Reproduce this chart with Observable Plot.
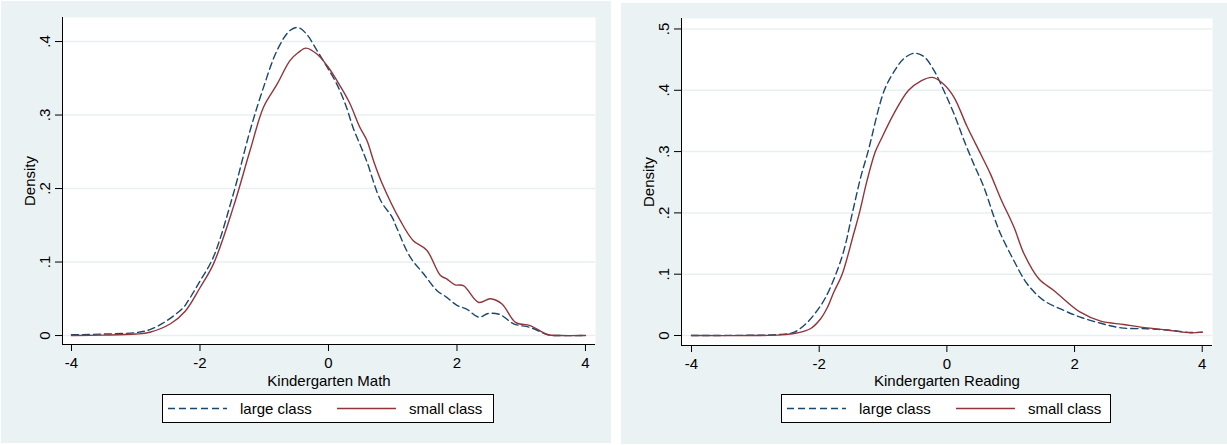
<!DOCTYPE html>
<html>
<head>
<meta charset="utf-8">
<script src="https://cdn.jsdelivr.net/npm/d3@7"></script>
<script src="https://cdn.jsdelivr.net/npm/@observablehq/plot@0.6"></script>
<style>
  html, body { margin: 0; padding: 0; background: #ffffff; }
  body { width: 1227px; height: 445px; position: relative; overflow: hidden;
         font-family: "Liberation Sans", Arial, sans-serif; color: #000; }
  .panel { position: absolute; background: #eaf2f3; }
  .panel svg.chart { position: absolute; left: 0; top: 0; }
  .legend { position: absolute; box-sizing: border-box; height: 29px; background: #fff;
            border: 1px solid #000; font-size: 15px; }
  .legend .sample { position: absolute; top: 12px; }
  .legend .lbl { position: absolute; top: 0; line-height: 27px; white-space: nowrap; }
</style>
</head>
<body>
<div id="p1" class="panel" style="left:1px;top:1px;width:610px;height:442px"></div>
<div id="p2" class="panel" style="left:621px;top:3px;width:606px;height:441px"></div>
<script>
// ---------- data ----------
const seriesNames = ["large class", "small class"];
const seriesColors = ["#1a476f", "#90353b"];
const xTicks = [-4, -2, 0, 2, 4];
const yTicksMath = [0, 0.1, 0.2, 0.3, 0.4];
const yTicksRead = [0, 0.1, 0.2, 0.3, 0.4, 0.5];
const titleMath = "Kindergarten Math";
const titleRead = "Kindergarten Reading";
const yTitle = "Density";

// Kindergarten Math — large class
const mathLargeX = [-4.0, -3.5, -3.0, -2.78, -2.52, -2.26, -2.2, -2.0, -1.79, -1.48, -1.22, -1.01, -0.8, -0.6, -0.47, -0.34, -0.18, -0.02, 0.13, 0.27, 0.39, 0.5, 0.6, 0.81, 0.99, 1.06, 1.27, 1.48, 1.69, 1.84, 2.0, 2.15, 2.34, 2.49, 2.67, 2.88, 3.14, 3.42, 3.6, 4.0];
const mathLargeD = [0.001, 0.002, 0.004, 0.008, 0.020, 0.038, 0.045, 0.074, 0.107, 0.193, 0.279, 0.338, 0.388, 0.415, 0.419, 0.410, 0.388, 0.365, 0.342, 0.313, 0.281, 0.258, 0.236, 0.184, 0.161, 0.147, 0.107, 0.084, 0.061, 0.052, 0.041, 0.036, 0.025, 0.030, 0.0285, 0.016, 0.011, 0.001, 0, 0];
// Kindergarten Math — small class
const mathSmallX = [-4.0, -3.5, -3.0, -2.78, -2.46, -2.23, -2.0, -1.79, -1.48, -1.22, -1.01, -0.8, -0.6, -0.47, -0.35, -0.18, -0.02, 0.13, 0.32, 0.49, 0.6, 0.7, 0.83, 1.12, 1.32, 1.53, 1.74, 1.84, 1.97, 2.1, 2.34, 2.52, 2.7, 2.91, 3.14, 3.42, 3.6, 4.0];
const mathSmallD = [0.0, 0.0005, 0.002, 0.0045, 0.016, 0.033, 0.065, 0.0975, 0.175, 0.252, 0.311, 0.342, 0.374, 0.385, 0.391, 0.383, 0.367, 0.347, 0.318, 0.283, 0.265, 0.238, 0.208, 0.156, 0.129, 0.116, 0.082, 0.077, 0.069, 0.068, 0.045, 0.050, 0.043, 0.018, 0.0136, 0.001, 0, 0];

// Kindergarten Reading — large class
const readLargeX = [-4.0, -3.0, -2.66, -2.4, -2.19, -2.03, -1.9, -1.74, -1.61, -1.48, -1.35, -1.235, -0.98, -0.8, -0.67, -0.51, -0.36, -0.2, -0.05, 0.11, 0.27, 0.42, 0.58, 0.74, 0.84, 1.05, 1.26, 1.52, 1.83, 2.09, 2.41, 2.73, 3.14, 3.45, 3.82, 4.0];
const readLargeD = [0, 0.0005, 0.0015, 0.005, 0.021, 0.041, 0.062, 0.100, 0.140, 0.200, 0.258, 0.300, 0.400, 0.435, 0.452, 0.4605, 0.455, 0.432, 0.400, 0.362, 0.318, 0.280, 0.242, 0.193, 0.166, 0.122, 0.084, 0.057, 0.041, 0.030, 0.020, 0.0125, 0.011, 0.009, 0.005, 0.0055];
// Kindergarten Reading — small class
const readSmallX = [-4.0, -3.0, -2.6, -2.35, -2.14, -1.98, -1.87, -1.77, -1.64, -1.46, -1.37, -1.25, -1.12, -1.04, -0.83, -0.6, -0.41, -0.23, -0.05, 0.11, 0.32, 0.53, 0.68, 0.84, 1.05, 1.21, 1.44, 1.68, 2.09, 2.41, 2.77, 3.14, 3.45, 3.82, 4.0];
const readSmallD = [0, 0, 0.001, 0.004, 0.011, 0.027, 0.046, 0.071, 0.100, 0.166, 0.200, 0.253, 0.300, 0.318, 0.362, 0.400, 0.415, 0.421, 0.410, 0.389, 0.340, 0.296, 0.264, 0.224, 0.177, 0.133, 0.0925, 0.073, 0.038, 0.0234, 0.018, 0.0125, 0.009, 0.0044, 0.0055];

// ---------- helpers ----------
const zip = (xs, ds) => xs.map((x, i) => ({x, d: ds[i]}));
const gridColor = "#e8eff1";
const yFmt = d => d === 0 ? "0" : d3.format(".1f")(d).replace(/^0/, "");

function panelChart({width, height, ml, mr, mt, mb, xDomain, yDomain, yTicks, title, titleDy, large, small}) {
  return Plot.plot({
    width, height,
    marginLeft: ml, marginRight: mr, marginTop: mt, marginBottom: mb,
    style: {fontFamily: "'Liberation Sans', Arial, sans-serif", fontSize: "15px", color: "#000", background: "transparent", overflow: "visible"},
    x: {domain: xDomain},
    y: {domain: yDomain},
    marks: [
      Plot.frame({fill: "white", stroke: "none"}),
      Plot.ruleY(yTicks, {stroke: gridColor, strokeWidth: 1.5}),
      Plot.line(large, {x: "x", y: "d", stroke: seriesColors[0], strokeWidth: 1.4, strokeDasharray: "7,4", curve: "catmull-rom"}),
      Plot.line(small, {x: "x", y: "d", stroke: seriesColors[1], strokeWidth: 1.4, curve: "catmull-rom"}),
      Plot.ruleX([xDomain[0]], {stroke: "#000", strokeWidth: 1}),
      Plot.ruleY([yDomain[0]], {stroke: "#000", strokeWidth: 1}),
      Plot.axisY({ticks: yTicks, tickSize: 7, tickPadding: 6, tickRotate: -90, tickFormat: yFmt, label: null}),
      Plot.axisX({ticks: xTicks, tickSize: 7, tickPadding: 6, tickFormat: d => String(d), label: null}),
      Plot.text([yTitle], {text: d => d, frameAnchor: "left", rotate: -90, dx: -28, textAnchor: "middle", lineAnchor: "bottom"}),
      Plot.text([title], {text: d => d, frameAnchor: "bottom", dy: titleDy, textAnchor: "middle", lineAnchor: "bottom"})
    ]
  });
}

function legend(parent, left, top, width) {
  const box = document.createElement("div");
  box.className = "legend";
  box.style.left = left + "px";
  box.style.top = top + "px";
  box.style.width = width + "px";
  const items = [
    {sx: 5, tx: 77, dash: "7,4"},
    {sx: 174, tx: 246, dash: null}
  ];
  items.forEach((it, i) => {
    const ns = "http://www.w3.org/2000/svg";
    const s = document.createElementNS(ns, "svg");
    s.setAttribute("class", "sample");
    s.setAttribute("width", 59);
    s.setAttribute("height", 3);
    s.style.left = it.sx + "px";
    const ln = document.createElementNS(ns, "line");
    ln.setAttribute("x1", 0); ln.setAttribute("x2", 59);
    ln.setAttribute("y1", 1.5); ln.setAttribute("y2", 1.5);
    ln.setAttribute("stroke", seriesColors[i]);
    ln.setAttribute("stroke-width", 1.4);
    if (it.dash) ln.setAttribute("stroke-dasharray", it.dash);
    s.appendChild(ln);
    box.appendChild(s);
    const t = document.createElement("span");
    t.className = "lbl";
    t.style.left = it.tx + "px";
    t.textContent = seriesNames[i];
    box.appendChild(t);
  });
  parent.appendChild(box);
}

// ---------- left panel ----------
const p1 = document.getElementById("p1");
const c1 = panelChart({
  width: 610, height: 392, ml: 61, mr: 16, mt: 16, mb: 49,
  xDomain: [-4.14, 4.156], yDomain: [-0.0122, 0.4327], yTicks: yTicksMath,
  title: titleMath, titleDy: 41,
  large: zip(mathLargeX, mathLargeD), small: zip(mathSmallX, mathSmallD)
});
c1.classList.add("chart");
p1.appendChild(c1);
legend(p1, 161, 393, 332);

// ---------- right panel ----------
const p2 = document.getElementById("p2");
const c2 = panelChart({
  width: 606, height: 392, ml: 60, mr: 15, mt: 15, mb: 50,
  xDomain: [-4.157, 4.161], yDomain: [-0.0163, 0.5171], yTicks: yTicksRead,
  title: titleRead, titleDy: 40,
  large: zip(readLargeX, readLargeD), small: zip(readSmallX, readSmallD)
});
c2.classList.add("chart");
p2.appendChild(c2);
legend(p2, 160, 391, 330);
</script>
</body>
</html>
